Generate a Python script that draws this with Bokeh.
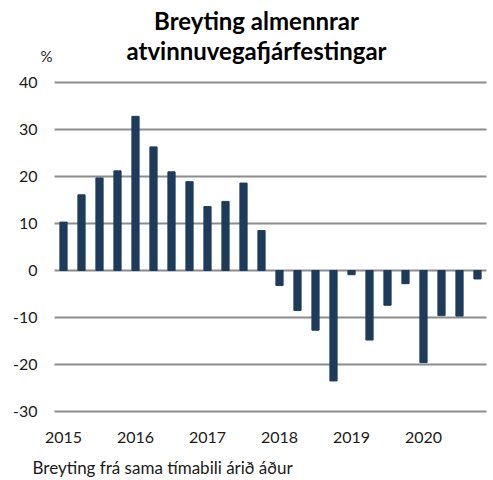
from bokeh.plotting import figure
from bokeh.models import Range1d, ColumnDataSource, Label
from bokeh.embed import file_html
from bokeh.resources import INLINE

quarters = list(range(24))
values = [10.3, 16.1, 19.7, 21.2,
          32.8, 26.3, 21.0, 18.9,
          13.6, 14.7, 18.6, 8.5,
          -3.2, -8.5, -12.7, -23.5,
          -0.9, -14.8, -7.4, -2.8,
          -19.6, -9.6, -9.7, -1.8]
year_labels = ["2015", "2016", "2017", "2018", "2019", "2020"]
year_ticks = [0, 4, 8, 12, 16, 20]
y_ticks = [-30, -20, -10, 0, 10, 20, 30, 40]

FONT = "Lato"
W, H = 490, 478
PX_X = 18.0   # pixels per quarter
PX_Y = 4.7    # pixels per percentage point
LEFT, TOP = 54, 82  # page position of plot area (x=-0.5, y=40)

def px_to_x(px):
    return -0.5 + (px - LEFT) / PX_X

def px_to_y(py):
    return 40 - (py - TOP) / PX_Y

x0 = px_to_x(0)
y1 = px_to_y(0)
p = figure(width=W, height=H, output_backend="svg", toolbar_location=None,
           x_range=Range1d(x0, x0 + W / PX_X), y_range=Range1d(y1 - H / PX_Y, y1),
           min_border=0, title=None)
p.outline_line_color = None
p.axis.visible = False
p.grid.visible = False
p.background_fill_color = "white"
p.border_fill_color = "white"

# gridlines
grid = ColumnDataSource(dict(y=y_ticks, x0=[-0.5] * len(y_ticks), x1=[23.5] * len(y_ticks),
                             lab=[str(t) for t in y_ticks]))
p.segment(x0="x0", y0="y", x1="x1", y1="y", source=grid, line_color="#8c8c8c", line_width=2)

# bars
src = ColumnDataSource(dict(x=quarters, top=values))
p.vbar(x="x", top="top", bottom=0, width=0.4, source=src, color="#1f3b5b")

# y tick labels
p.text(x="x0", y="y", text="lab", source=grid, x_offset=-17, text_align="right",
       text_baseline="middle", text_font={"value": FONT}, text_font_size="16px",
       text_color="#1a1a1a")

# x tick labels
xs = ColumnDataSource(dict(x=year_ticks, y=[-30] * len(year_ticks), lab=year_labels))
p.text(x="x", y="y", text="lab", source=xs, y_offset=26, text_align="center",
       text_baseline="middle", text_font={"value": FONT}, text_font_size="16px",
       text_color="#1a1a1a")

cx = px_to_x(256)
title1 = Label(x=cx, y=px_to_y(20), text="Breyting almennrar", text_align="center",
               text_baseline="middle", text_font=FONT, text_font_style="bold",
               text_font_size="24px", text_color="#000000")
title2 = Label(x=cx, y=px_to_y(49.5), text="atvinnuvegafjárfestingar", text_align="center",
               text_baseline="middle", text_font=FONT, text_font_style="bold",
               text_font_size="24px", text_color="#000000")
pct = Label(x=px_to_x(46), y=px_to_y(55), text="%", text_align="center",
            text_baseline="middle", text_font=FONT, text_font_size="15px", text_color="#1a1a1a")
sub = Label(x=px_to_x(32), y=px_to_y(467),
            text="Breyting frá sama tímabili árið áður", text_align="left",
            text_baseline="middle", text_font=FONT, text_font_size="17px", text_color="#1a1a1a")
for lab in (title1, title2, pct, sub):
    p.add_layout(lab)

open("out.html", "w").write(file_html(p, INLINE))
